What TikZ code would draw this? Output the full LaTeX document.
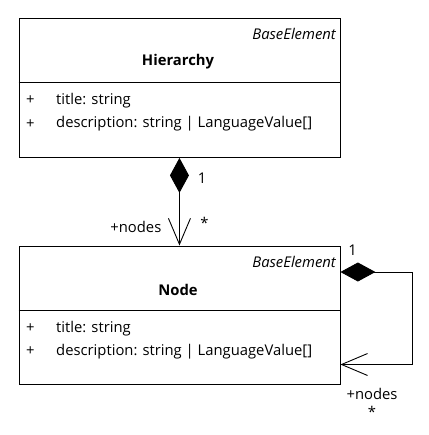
\documentclass[tikz,border=0pt]{standalone}
\usepackage{fontspec}
\setmainfont{Open Sans}
\usetikzlibrary{arrows.meta}
\begin{document}
\begin{tikzpicture}[x=1pt,y=-1pt,
  every node/.style={font=\fontsize{14.8}{18}\selectfont, inner sep=0pt},
  classbox/.style={draw, line width=0.9pt, minimum width=321pt, minimum height=138.5pt, anchor=north west},
  stereo/.style={font=\fontsize{14.8}{18}\selectfont\itshape, anchor=east},
  cname/.style={font=\fontsize{14.8}{18}\selectfont\bfseries},
  attr/.style={anchor=west},
  comp/.style={line width=0.9pt, {Diamond[length=35pt,width=19pt,fill=black]}-{Straight Barb[length=26pt,width=22pt,line width=0.9pt]}}
]
\useasboundingbox (0,0) rectangle (428,435);
% Hierarchy
\node[classbox] (h) at (18.5,18.5) {};
\draw[line width=0.9pt] (18.5,82) -- (339.5,82);
\node[stereo] (hs) at (336,34) {BaseElement};
\node[cname] (hn) at (178,62) {Hierarchy};
\node[attr] (hp1) at (26,100.5) {+};
\node[attr] (ha1) at (56,100.5) {title: string};
\node[attr] (hp2) at (26,124) {+};
\node[attr] (ha2) at (56,124) {description: string | LanguageValue[]};
% Node
\node[classbox] (n) at (18.5,245.5) {};
\draw[line width=0.9pt] (18.5,310) -- (339.5,310);
\node[stereo] (ns) at (336,262) {BaseElement};
\node[cname] (nn) at (178,289.5) {Node};
\node[attr] (np1) at (26,328.5) {+};
\node[attr] (na1) at (56,328.5) {title: string};
\node[attr] (np2) at (26,351.5) {+};
\node[attr] (na2) at (56,351.5) {description: string | LanguageValue[]};
% associations
\draw[comp] (h.south) -- (n.north);
\node (m1) at (202,178) {1};
\node (m2) at (204.5,223) {*};
\node[anchor=east] (r1) at (161.5,227) {+nodes};
\draw[comp] ([yshift=-26.5pt]n.north east) -- ++(72,0) |- ([yshift=-119pt]n.north east);
\node (m3) at (352.5,250) {1};
\node (r2) at (372,394) {+nodes};
\node (m4) at (372,412) {*};
\end{tikzpicture}
\end{document}
